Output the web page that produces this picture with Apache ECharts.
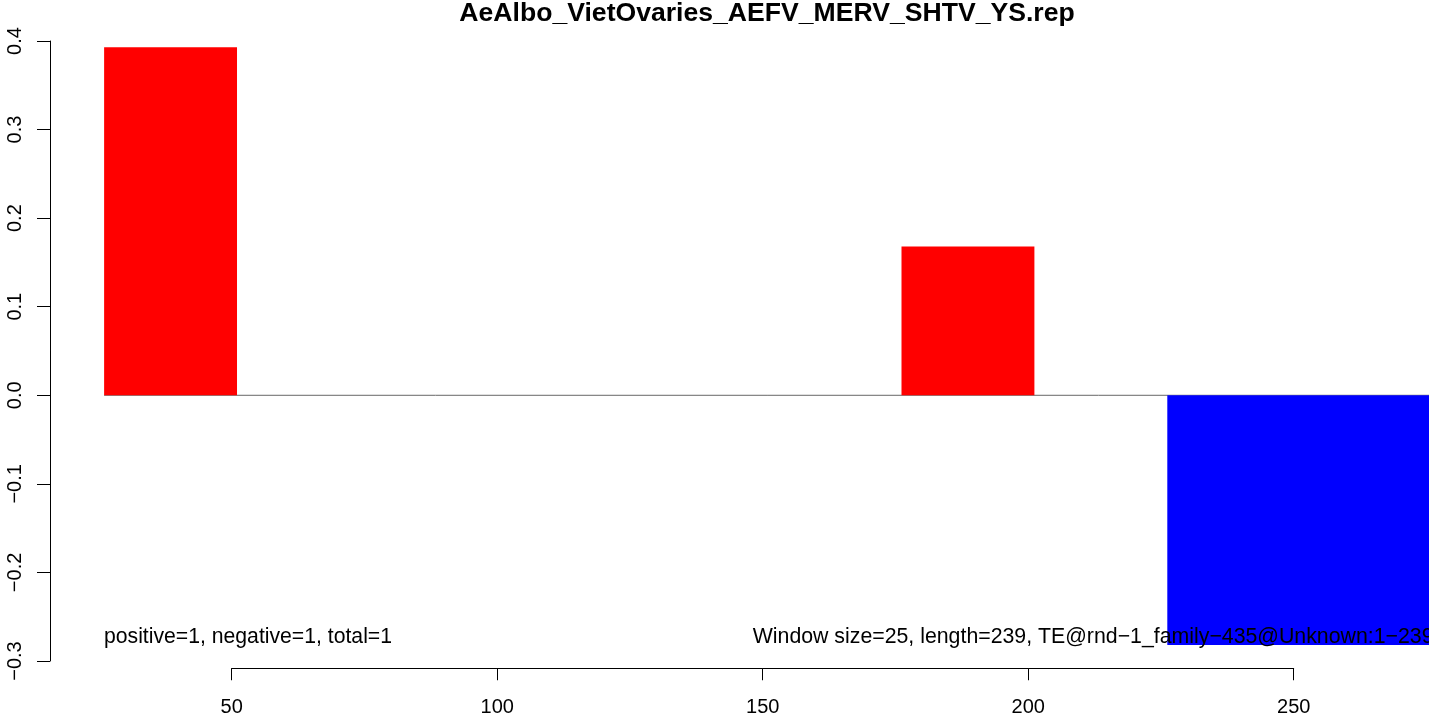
<!DOCTYPE html>
<html>
<head>
<meta charset="utf-8">
<script src="https://cdn.jsdelivr.net/npm/echarts@6/dist/echarts.min.js"></script>
<style>
html,body{margin:0;padding:0;background:#fff;}
#chart{width:1429px;height:716px;}
</style>
</head>
<body>
<div id="chart"></div>
<script>
const chartTitle = 'AeAlbo_VietOvaries_AEFV_MERV_SHTV_YS.rep';
const windowStart = [26, 176, 226];
const windowEnd = [51, 201, 276];
const scoreValues = [0.393, 0.168, -0.282];
const baselineX = [26, 276];
const xTickMin = 50, xTickMax = 250, xTickStep = 50;
const yMin = -0.3, yMax = 0.4, yStep = 0.1;
const noteLeft = 'positive=1, negative=1, total=1';
const noteRight = 'Window size=25, length=239, TE@rnd\u22121_family\u2212435@Unknown:1\u2212239';

const FONT = '"Liberation Sans", Arial, Helvetica, sans-serif';
const chart = echarts.init(document.getElementById('chart'), null, {renderer: 'canvas'});

const barData = windowStart.map((s, i) => [s, windowEnd[i], scoreValues[i]]);

function renderBar(params, api) {
  const v = api.value(2);
  const p0 = api.coord([api.value(0), v]);
  const p1 = api.coord([api.value(1), 0]);
  return {
    type: 'rect',
    shape: {x: p0[0], y: Math.min(p0[1], p1[1]), width: p1[0] - p0[0], height: Math.abs(p1[1] - p0[1])},
    style: {fill: v >= 0 ? '#FF0000' : '#0000FF'}
  };
}

const fmtY = v => {
  const s = (Math.round(v * 10) / 10).toFixed(1);
  return s.replace('-', '\u2212');
};

chart.setOption({
  animation: false,
  backgroundColor: '#ffffff',
  textStyle: {fontFamily: FONT},
  grid: [
    {left: 50, right: 0, top: 41, bottom: 55, containLabel: false},
    {left: 231.7, right: 135.3, top: 668, bottom: 47, containLabel: false}
  ],
  xAxis: [
    {type: 'value', gridIndex: 0, min: 15.82, max: 275.23, show: false},
    {
      type: 'value', gridIndex: 1, min: xTickMin, max: xTickMax, interval: xTickStep,
      position: 'bottom',
      axisLine: {show: true, lineStyle: {color: '#000', width: 1}},
      axisTick: {show: true, length: 12, lineStyle: {color: '#000', width: 1}},
      axisLabel: {show: true, color: '#000', fontSize: 20, fontFamily: FONT, margin: 29},
      splitLine: {show: false}
    }
  ],
  yAxis: [
    {
      type: 'value', gridIndex: 0, min: yMin, max: yMax, interval: yStep,
      axisLine: {show: true, lineStyle: {color: '#000', width: 1}},
      axisTick: {show: true, length: 13, lineStyle: {color: '#000', width: 1}},
      axisLabel: {show: true, color: '#000', fontSize: 20, fontFamily: FONT, rotate: 90, margin: 25, formatter: fmtY},
      splitLine: {show: false}
    },
    {type: 'value', gridIndex: 1, min: 0, max: 1, show: false}
  ],
  series: [
    {
      type: 'line', xAxisIndex: 0, yAxisIndex: 0,
      data: baselineX.map(x => [x, 0]),
      symbol: 'none', lineStyle: {color: '#666666', width: 1}, z: 1, silent: true
    },
    {
      type: 'custom', xAxisIndex: 0, yAxisIndex: 0,
      data: barData, renderItem: renderBar, z: 2, silent: true
    },
    {type: 'line', xAxisIndex: 1, yAxisIndex: 1, data: [], silent: true}
  ],
  graphic: [
    {type: 'text', z: 100, style: {text: chartTitle, x: 767, y: 14, align: 'center', verticalAlign: 'middle', font: 'bold 26.6px ' + FONT, fill: '#000'}},
    {type: 'text', z: 100, style: {text: noteLeft, x: 104, y: 637, align: 'left', verticalAlign: 'middle', font: '21.2px ' + FONT, fill: '#000'}},
    {type: 'text', z: 100, style: {text: noteRight, x: 752.7, y: 637, align: 'left', verticalAlign: 'middle', font: '21.3px ' + FONT, fill: '#000'}}
  ]
});
</script>
</body>
</html>
